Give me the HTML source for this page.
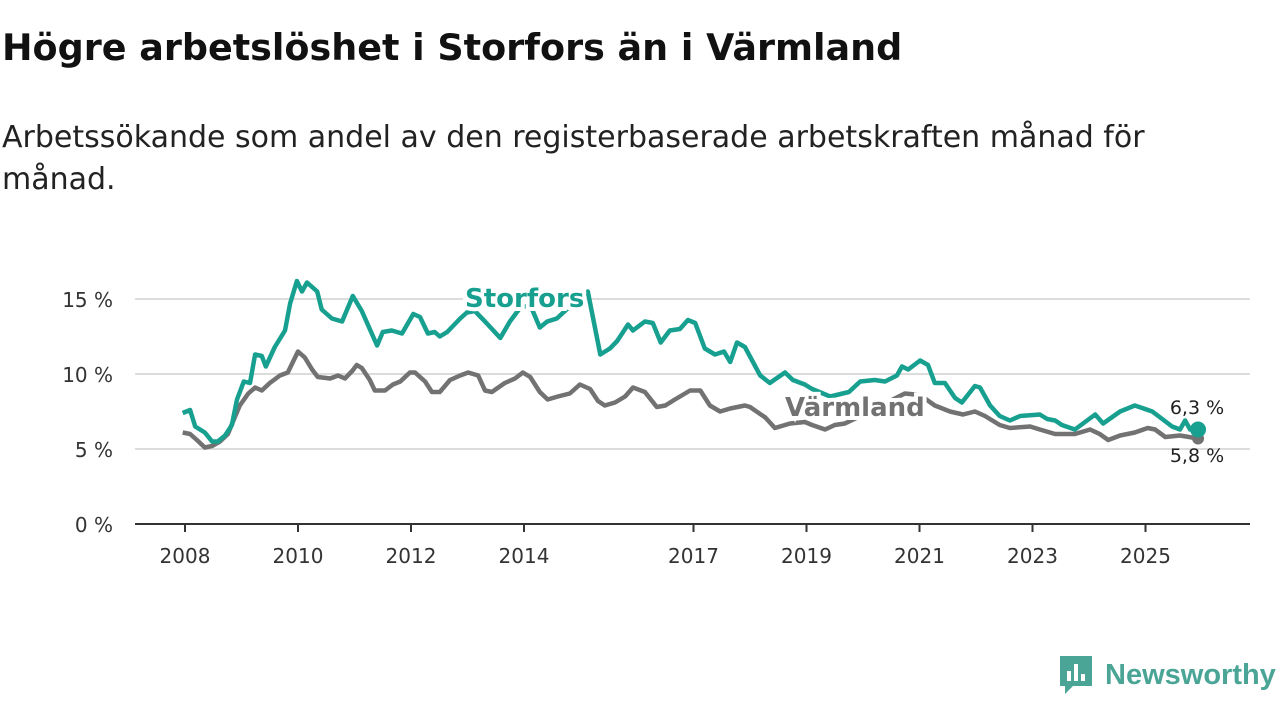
<!DOCTYPE html>
<html><head><meta charset="utf-8">
<style>
body{margin:0;width:1280px;height:720px;background:#fff;font-family:"DejaVu Sans","Liberation Sans",sans-serif;overflow:hidden;position:relative}
h1{position:absolute;left:2px;top:26px;margin:0;font-size:36.5px;font-weight:bold;color:#111;white-space:nowrap}
.sub{position:absolute;left:2px;top:117px;margin:0;font-size:30px;color:#222;line-height:42px;width:1270px;white-space:nowrap}
svg{position:absolute;left:0;top:0}
</style></head><body>
<h1>Högre arbetslöshet i Storfors än i Värmland</h1>
<p class="sub">Arbetssökande som andel av den registerbaserade arbetskraften månad för<br>månad.</p>
<svg id="chart" width="1280" height="720"></svg>
<div style="position:absolute;left:1058px;top:654px;display:flex;align-items:center">
<svg width="36" height="42" style="position:static"><path d="M2 2h32v30H15l-8 8v-8H2z" fill="#4aa596"/><rect x="9" y="17" width="4" height="10" fill="#fff"/><rect x="16" y="10" width="4" height="17" fill="#fff"/><rect x="23" y="20" width="4" height="7" fill="#fff"/></svg>
<span style="font-family:'Liberation Sans',sans-serif;font-size:29px;font-weight:bold;color:#4aa596;margin-left:11px">Newsworthy</span></div>
<script>
const yTicks=[0,5,10,15];
const xTicks=[2008,2010,2012,2014,2017,2019,2021,2023,2025];
const storDates=[-0.04,0.09,0.18,0.35,0.48,0.58,0.71,0.83,0.92,1.04,1.15,1.24,1.36,1.43,1.59,1.77,1.86,1.98,2.07,2.16,2.34,2.42,2.60,2.78,2.97,3.13,3.33,3.40,3.50,3.66,3.84,4.04,4.16,4.30,4.42,4.51,4.64,4.87,4.99,5.13,5.31,5.58,5.75,5.93,6.11,6.28,6.41,6.58,6.81,7.13,7.35,7.52,7.65,7.84,7.93,8.14,8.28,8.42,8.58,8.76,8.90,9.03,9.20,9.38,9.54,9.65,9.77,9.91,10.18,10.35,10.62,10.76,10.97,11.10,11.42,11.75,11.95,12.21,12.39,12.60,12.69,12.80,13.01,13.15,13.27,13.45,13.63,13.75,13.98,14.07,14.25,14.42,14.60,14.78,15.13,15.26,15.40,15.52,15.75,16.11,16.25,16.55,16.81,17.12,17.47,17.61,17.70,17.79,17.93];
const storVals=[7.4,7.6,6.5,6.1,5.5,5.5,5.9,6.6,8.3,9.5,9.4,11.3,11.2,10.5,11.8,12.9,14.7,16.2,15.5,16.1,15.5,14.3,13.7,13.5,15.2,14.2,12.5,11.9,12.8,12.9,12.7,14.0,13.8,12.7,12.8,12.5,12.8,13.7,14.1,14.2,13.5,12.4,13.5,14.4,14.6,13.1,13.5,13.7,14.5,15.5,11.3,11.7,12.2,13.3,12.9,13.5,13.4,12.1,12.9,13.0,13.6,13.4,11.7,11.3,11.5,10.8,12.1,11.8,9.9,9.4,10.1,9.6,9.3,9.0,8.5,8.8,9.5,9.6,9.5,9.9,10.5,10.3,10.9,10.6,9.4,9.4,8.4,8.1,9.2,9.1,7.9,7.2,6.9,7.2,7.3,7.0,6.9,6.6,6.3,7.3,6.7,7.5,7.9,7.5,6.5,6.3,6.9,6.3,6.3];
const varmDates=[-0.04,0.09,0.21,0.35,0.48,0.62,0.76,0.88,0.97,1.12,1.24,1.36,1.50,1.68,1.82,2.00,2.12,2.25,2.35,2.57,2.71,2.83,2.96,3.04,3.13,3.27,3.36,3.54,3.68,3.81,3.98,4.07,4.25,4.37,4.51,4.69,4.87,5.01,5.19,5.31,5.43,5.66,5.84,5.98,6.11,6.28,6.42,6.60,6.81,6.99,7.17,7.31,7.43,7.61,7.79,7.93,8.14,8.35,8.50,8.67,8.94,9.12,9.29,9.47,9.65,9.91,10.00,10.27,10.44,10.71,10.97,11.10,11.33,11.50,11.68,12.12,12.53,12.74,13.01,13.27,13.54,13.77,13.98,14.16,14.42,14.60,14.96,15.13,15.40,15.75,16.02,16.19,16.34,16.55,16.81,17.04,17.17,17.35,17.61,17.93];
const varmVals=[6.1,6.0,5.6,5.1,5.2,5.5,6.0,7.1,7.9,8.7,9.1,8.9,9.4,9.9,10.1,11.5,11.1,10.3,9.8,9.7,9.9,9.7,10.2,10.6,10.4,9.6,8.9,8.9,9.3,9.5,10.1,10.1,9.5,8.8,8.8,9.6,9.9,10.1,9.9,8.9,8.8,9.4,9.7,10.1,9.8,8.8,8.3,8.5,8.7,9.3,9.0,8.2,7.9,8.1,8.5,9.1,8.8,7.8,7.9,8.3,8.9,8.9,7.9,7.5,7.7,7.9,7.8,7.1,6.4,6.7,6.8,6.6,6.3,6.6,6.7,7.5,8.3,8.7,8.6,7.9,7.5,7.3,7.5,7.2,6.6,6.4,6.5,6.3,6.0,6.0,6.3,6.0,5.6,5.9,6.1,6.4,6.3,5.8,5.9,5.7];
const lastStor=6.3, lastVarm=5.8;
const X=t=>185+(t-2008)*56.5;
const Y=v=>524-v*15;
const svg=document.getElementById('chart');
const NS='http://www.w3.org/2000/svg';
function mk(tag,attrs){const e=document.createElementNS(NS,tag);for(const k in attrs)e.setAttribute(k,attrs[k]);svg.appendChild(e);return e;}
yTicks.forEach(v=>{
  if(v>0){const g=mk('line',{x1:135,x2:1250,y1:Y(v),y2:Y(v),stroke:'#dcdcdc','stroke-width':2});
  
  }
  const t=mk('text',{x:113,y:Y(v)+8,'text-anchor':'end','font-size':20,fill:'#333'});
  t.textContent=v+' %';
  
  
});
const ax=mk('line',{x1:135,x2:1250,y1:524,y2:524,stroke:'#333','stroke-width':2});


xTicks.forEach(yr=>{
  const tk=mk('line',{x1:X(yr),x2:X(yr),y1:524,y2:532,stroke:'#333','stroke-width':2});
  
  
  const t=mk('text',{x:X(yr),y:563,'text-anchor':'middle','font-size':20,fill:'#333'});
  t.textContent=yr;
  
  
});
function path(d,v){return d.map((t,i)=>(i?'L':'M')+X(2008+t).toFixed(1)+' '+Y(v[i]).toFixed(1)).join('');}
const pv=mk('path',{d:path(varmDates,varmVals),fill:'none',stroke:'#727272','stroke-width':4.5,'stroke-linejoin':'round'});


const ps=mk('path',{d:path(storDates,storVals),fill:'none',stroke:'#17a08f','stroke-width':4.5,'stroke-linejoin':'round'});


const ls=mk('text',{x:465,y:307,'font-size':26,'font-weight':'bold',fill:'#17a08f',stroke:'#fff','stroke-width':8,'paint-order':'stroke'});
ls.textContent='Storfors';


const lv=mk('text',{x:785,y:416,'font-size':26,'font-weight':'bold',fill:'#727272',stroke:'#fff','stroke-width':8,'paint-order':'stroke'});
lv.textContent='Värmland';


const lastT=2008+storDates[storDates.length-1];
const dv=mk('circle',{cx:X(lastT),cy:Y(varmVals[varmVals.length-1]),r:6,fill:'#727272'});


const ds=mk('circle',{cx:X(lastT),cy:Y(storVals[storVals.length-1]),r:8,fill:'#17a08f'});


const vs=mk('text',{x:1197,y:414,'text-anchor':'middle','font-size':19,fill:'#222'});
vs.textContent=String(lastStor).replace('.',',')+' %';


const vv=mk('text',{x:1197,y:462,'text-anchor':'middle','font-size':19,fill:'#222'});
vv.textContent=String(lastVarm).replace('.',',')+' %';


</script>
</body></html>
